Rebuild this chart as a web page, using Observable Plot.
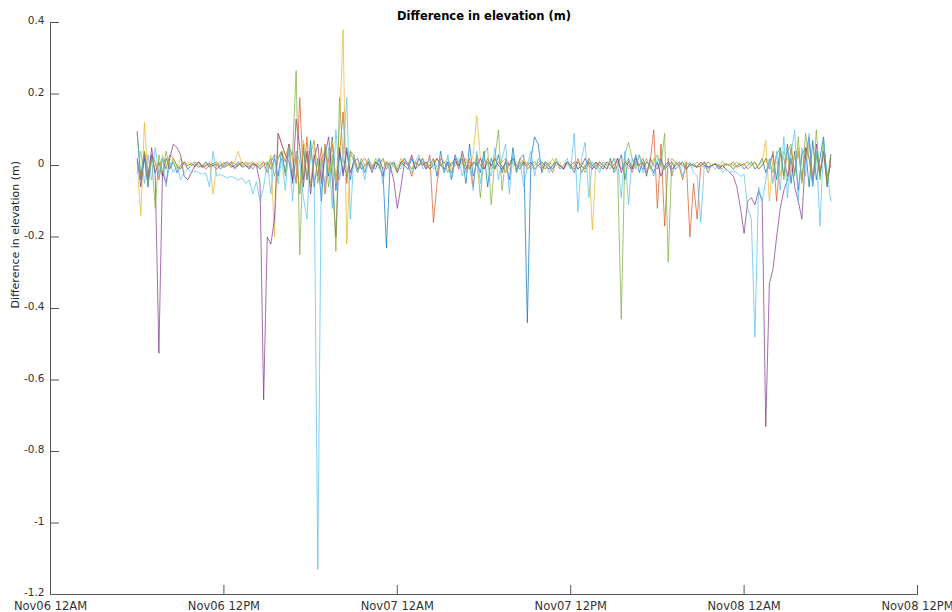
<!DOCTYPE html>
<html><head><meta charset="utf-8">
<script src="https://cdn.jsdelivr.net/npm/d3@7"></script>
<script src="https://cdn.jsdelivr.net/npm/@observablehq/plot@0.6"></script>
<style>body{margin:0;background:#fff;overflow:hidden}</style>
</head><body><div id="chart"></div>
<script>
const title = "Difference in elevation (m)";
const yLabel = "Difference in elevation (m)";
const startTime = Date.UTC(2019, 10, 6, 6, 0);
const stepMinutes = 15;
const xTicks = [Date.UTC(2019,10,6,0), Date.UTC(2019,10,6,12), Date.UTC(2019,10,7,0), Date.UTC(2019,10,7,12), Date.UTC(2019,10,8,0), Date.UTC(2019,10,8,12)];
const xTickLabels = ["Nov06 12AM","Nov06 12PM","Nov07 12AM","Nov07 12PM","Nov08 12AM","Nov08 12PM"];
const yTicks = [0.4, 0.2, 0, -0.2, -0.4, -0.6, -0.8, -1, -1.2];
const yTickLabels = ["0.4","0.2","0","-0.2","-0.4","-0.6","-0.8","-1","-1.2"];
const seriesNames = ["Station 1","Station 2","Station 3","Station 4","Station 5","Station 6"];
const seriesColors = ["#0072BD","#D95319","#EDB120","#7E2F8E","#77AC30","#4DBEEE"];

const s1 = [
.095,-.04,.02,-.06,.03,-.02,.01,-.03,.02,-.01,
.01,-.02,0,.01,-.01,0,.005,-.005,0,.01,
-.005,0,.005,-.01,0,.005,-.005,0,.01,-.005,
0,-.01,.005,0,-.01,0,.01,-.01,.02,-.03,
.04,-.02,.06,-.05,.03,-.08,.05,-.04,.07,-.06,
.02,-.1,.06,-.03,.08,-.07,.04,-.02,.05,-.04,
.02,-.01,.01,-.02,.01,0,-.01,.02,-.01,-.23,
0,.01,-.02,.01,0,-.01,.02,-.01,0,.01,
-.01,0,.02,-.03,.04,-.02,.01,-.04,.03,0,
.02,-.05,.06,-.03,.01,-.02,.04,-.06,.02,-.01,
.03,-.02,.01,-.04,.05,-.02,.02,.03,-.44,.02,
.08,.06,-.02,.01,0,-.01,.01,0,-.01,.01,
0,-.02,.01,0,-.01,.02,0,-.01,.01,0,
-.01,.02,-.02,0,.03,-.04,.02,-.01,.03,-.02,
.01,-.03,.02,0,-.01,.02,-.01,0,.01,-.01,
0,.01,-.01,0,.005,-.005,0,.01,-.005,0,
.005,-.005,0,.005,0,-.01,0,.005,-.01,0,
.01,-.01,0,.02,-.02,.01,.03,-.04,.05,-.03,
.06,-.05,.04,-.07,.03,.05,-.06,.07,-.04,.02,
.08,-.05,.03];

const s2 = [
.01,-.03,.04,-.02,.03,.01,-.04,.02,-.01,.03,
.02,0,-.01,.01,0,.005,-.005,.01,0,-.01,
0,.005,.01,0,-.005,0,.01,-.01,.005,0,
.01,0,-.01,.005,0,.01,-.02,.01,.03,.02,
.04,.01,.06,.02,-.05,.19,-.04,.08,-.06,.03,
-.03,.05,-.08,.02,.06,-.04,.03,.15,-.05,.04,
.03,-.02,.01,.02,0,-.01,.01,0,.02,-.01,
.01,0,-.02,.01,.02,0,-.03,.01,0,.02,
-.01,.03,-.16,-.05,.02,.01,0,-.02,.01,0,
.01,-.01,.02,-.06,.03,0,-.01,.02,0,-.01,
.01,0,-.02,.01,.02,-.01,0,.01,-.01,0,
.01,0,-.01,.01,0,-.02,.01,0,-.01,.01,
0,-.01,.02,-.02,0,.01,-.01,0,.01,0,
-.01,.01,0,.02,-.01,0,.01,-.02,.01,0,
.02,-.02,.01,.1,-.12,.06,-.17,.02,-.03,.01,
0,-.04,.01,-.2,-.05,-.15,0,.01,-.02,0,
.005,0,-.01,.005,0,.01,-.005,0,.005,-.01,
0,.01,-.01,0,.02,-.01,.04,-.1,.03,.02,
-.03,.05,-.02,.04,-.04,.05,.02,-.05,.03,-.02,
.04,-.03,0];

const s3 = [
0,-.14,.12,-.03,.02,.01,-.02,.03,0,.02,
.01,-.01,.02,0,.01,.005,0,.01,-.005,0,
.01,-.08,.005,0,.01,0,.005,.01,.04,0,
.005,.01,0,.005,.01,0,-.02,.03,-.2,.09,
.06,.03,.05,-.02,.04,-.08,.07,.02,-.06,.05,
.01,-.04,.06,-.02,.07,-.05,.1,.38,-.22,.03,
.02,0,.01,-.01,.02,0,.01,-.01,.02,0,
.01,0,-.01,.02,0,.01,-.01,0,.02,0,
.01,0,.02,-.01,0,.01,.02,-.01,0,.01,
0,.02,-.01,.03,.14,.02,0,.01,-.01,.02,
0,.01,.02,-.01,0,.01,0,.02,-.01,0,
.01,0,.01,-.01,0,.02,0,.01,-.01,0,
.01,0,-.01,.01,0,.02,-.18,.01,0,.01,
0,.01,-.01,0,.01,.02,-.01,0,.01,0,
.01,-.01,0,.02,0,.01,-.01,0,.01,0,
.005,0,.01,0,-.005,0,.005,0,.01,0,
.005,0,0,.005,0,-.005,0,.005,0,.01,
0,.005,0,.01,.07,-.1,.02,.01,-.03,.04,
.02,-.02,.03,.05,-.04,.02,.06,-.03,.04,-.01,
.03,-.05,.02];

const s4 = [
.02,-.06,.03,-.04,.05,-.03,-.525,-.02,-.05,.02,
.06,.05,.03,-.03,-.04,-.02,0,.01,-.005,0,
.005,0,-.01,0,.005,.01,0,-.005,0,.01,
0,-.005,.005,0,-.05,-.655,-.2,-.22,-.15,.09,
.06,.03,.01,-.04,.13,.05,-.06,.04,-.08,.02,
.06,-.05,.03,.08,-.04,-.2,.05,-.03,.04,-.02,
.01,.02,-.01,0,.01,-.02,.01,0,-.03,.01,
0,-.04,-.12,-.06,.01,0,.03,-.01,.02,0,
.01,-.01,0,.02,0,-.01,.01,0,.02,-.01,
.04,0,-.01,.01,0,.02,-.01,.01,0,.02,
0,-.01,.01,0,.02,0,-.01,.01,0,.01,
-.01,0,.01,0,-.01,0,.01,0,-.01,.01,
0,.01,-.01,0,.02,0,-.01,.01,0,-.01,
.01,0,-.01,.02,-.02,.01,0,-.01,.02,0,
-.01,.01,0,-.02,.01,-.03,0,.01,-.01,0,
.01,0,-.01,.005,0,-.005,.01,0,-.005,0,
.005,-.01,0,-.01,-.02,-.03,-.06,-.12,-.19,-.1,
-.09,-.11,-.07,-.1,-.73,-.33,-.29,-.2,-.12,-.07,
-.04,.02,-.06,-.1,-.15,.03,.08,-.05,.06,-.03,
.04,-.06,.02];

const s5 = [
.09,-.03,.04,-.05,.02,-.12,.03,-.02,.04,-.01,
.02,0,-.01,.01,0,.005,.01,0,-.005,.01,
0,.005,0,.01,-.005,0,.01,.005,0,.01,
0,.005,.01,0,-.005,.01,0,.02,-.03,.02,
.04,-.03,.05,.03,.265,-.25,.06,-.04,.03,.07,
-.05,.02,.04,-.06,.03,-.24,.19,.02,-.03,.04,
.01,-.02,.02,0,.01,-.01,.02,0,-.01,.01,
0,.01,-.01,0,.02,0,-.01,.01,0,.02,
0,-.01,.01,.02,0,.01,-.02,.01,0,.01,
.03,-.02,.01,0,.02,-.09,.03,.05,-.11,.02,
.1,-.07,.02,0,.01,-.01,.02,0,.01,-.01,
0,.01,0,-.01,.01,0,.02,-.01,0,.01,
-.01,0,.01,0,-.02,.01,0,.01,-.01,0,
.01,0,.02,-.02,-.43,.03,.065,.02,-.01,.03,
0,.02,-.01,.01,.03,0,.09,-.27,.02,.01,
0,.01,-.01,.005,0,.01,0,-.005,.01,0,
.005,0,.01,0,.005,0,.01,0,.005,.01,
0,.01,-.01,0,.02,.01,-.02,.03,.05,-.04,
.04,.06,-.03,.08,-.05,.09,.02,-.06,.1,-.04,
.07,-.06,.03];

const s6 = [
-.02,.04,-.05,.03,-.04,.05,-.03,.02,-.06,.01,
-.02,0,-.04,-.02,-.01,-.02,-.015,-.02,-.025,-.02,
-.06,.04,-.03,-.025,-.03,-.035,-.03,-.035,-.04,-.035,
-.05,-.04,-.08,-.045,-.1,-.06,.01,-.08,.03,-.05,
.02,-.07,.05,-.1,.04,.01,-.09,-.15,.05,-.03,
-1.13,.02,-.06,.05,-.12,.1,-.04,.03,.19,-.15,
.03,-.02,.01,-.04,.02,-.01,0,.02,-.05,.01,
-.02,.01,0,-.01,.02,0,-.02,.01,.03,-.01,
0,.02,-.01,0,.01,-.02,.03,-.04,.01,.02,
-.03,.01,0,-.07,.04,-.05,.02,0,-.03,.05,
-.04,.02,.06,-.08,.03,-.02,.01,-.06,0,.04,
-.03,.02,0,.01,-.02,0,.01,-.01,0,.02,
-.01,.09,-.13,.02,.065,-.09,.01,0,-.02,.01,
0,-.01,.02,.01,-.09,.04,-.11,.02,0,.03,
-.02,.01,0,-.03,.02,0,-.01,.01,-.02,0,
.01,-.03,0,.01,-.02,-.03,-.16,0,-.01,0,
-.01,0,-.02,-.01,-.02,-.015,-.02,-.03,-.025,-.12,
-.15,-.48,-.06,-.1,-.04,.02,-.05,.04,-.07,.08,
-.09,.03,.1,-.1,.05,-.03,.09,-.06,.04,-.17,
.06,-.02,-.1];

const seriesValues = [s1, s2, s3, s4, s5, s6];
const rows = seriesValues.flatMap((vals, k) =>
  vals.map((v, i) => ({t: new Date(startTime + i * stepMinutes * 60000), v, s: seriesNames[k]})));

const axisColor = "#555";
const textColor = "#333";
const xLabelOf = d => xTickLabels[xTicks.findIndex(t => +t === +d)];
const yLabelOf = d => yTickLabels[yTicks.indexOf(d)];

const chart = Plot.plot({
  width: 952, height: 612,
  marginLeft: 50, marginRight: 35, marginTop: 22, marginBottom: 18,
  style: {fontFamily: "DejaVu Sans, sans-serif", fontSize: "11px", color: textColor, background: "#fff", overflow: "visible"},
  x: {type: "utc", domain: [new Date(xTicks[0]), new Date(xTicks[xTicks.length - 1])]},
  y: {domain: [-1.2, 0.4]},
  color: {domain: seriesNames, range: seriesColors},
  marks: [
    Plot.lineY(rows, {x: "t", y: "v", z: "s", stroke: "s", strokeWidth: 0.7}),
    Plot.frame({anchor: "left", stroke: axisColor}),
    Plot.frame({anchor: "bottom", stroke: axisColor}),
    Plot.axisX(xTicks.map(t => new Date(t)), {tickSize: -9, tickFormat: () => "", stroke: axisColor, label: null}),
    Plot.axisX(xTicks.map(t => new Date(t)), {tickSize: 0, tickPadding: 7, tickFormat: xLabelOf, fill: textColor, fontSize: 11.5, label: null}),
    Plot.axisY(yTicks, {tickSize: -9, tickFormat: () => "", stroke: axisColor, label: null}),
    Plot.axisY(yTicks, {tickSize: 0, tickPadding: 6, dy: -1.5, tickFormat: yLabelOf, fill: textColor, fontSize: 10.5, label: null}),
    Plot.text([yLabel], {text: d => d, frameAnchor: "left", rotate: -90, dx: -35, fill: "#222", fontSize: 11}),
    Plot.text([title], {text: d => d, frameAnchor: "top", dy: -11, fill: "#000", fontWeight: "bold", fontSize: 11.5})
  ]
});
document.getElementById("chart").appendChild(chart);
</script>
</body></html>
